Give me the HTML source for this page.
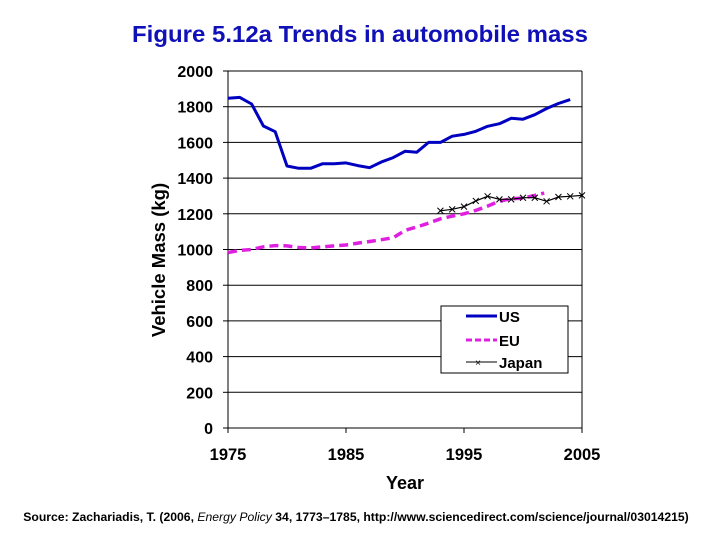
<!DOCTYPE html>
<html><head><meta charset="utf-8"><style>
body{margin:0;background:#fff;width:720px;height:540px;overflow:hidden;font-family:"Liberation Sans",Arial,sans-serif}
</style></head><body>
<svg id="c" width="720" height="540" xmlns="http://www.w3.org/2000/svg" font-family="Liberation Sans, Arial, sans-serif">
<text x="132" y="42" textLength="456" lengthAdjust="spacingAndGlyphs" font-size="23" font-weight="bold" fill="#1010b8">Figure 5.12a Trends in automobile mass</text>
<text x="165" y="260" text-anchor="middle" font-size="18.5" font-weight="bold" transform="rotate(-90 165 260)">Vehicle Mass (kg)</text>
<text x="405" y="489" text-anchor="middle" font-size="18" font-weight="bold">Year</text>
<text x="356" y="521" text-anchor="middle" font-size="12.2" font-weight="bold">Source: Zachariadis, T. (2006, <tspan font-style="italic" font-weight="normal">Energy Policy</tspan> 34, 1773–1785, http://www.sciencedirect.com/science/journal/03014215)</text>
<g id="grid"></g><g id="series"></g>
<g>
<rect x="441" y="306" width="127" height="67" fill="#fff" stroke="#000" stroke-width="1"/>
<line x1="466" y1="316" x2="497" y2="316" stroke="#0000c0" stroke-width="3"/>
<text x="499" y="322" font-size="15" font-weight="bold">US</text>
<line x1="466" y1="340" x2="497" y2="340" stroke="#e020e0" stroke-width="3" stroke-dasharray="6,3"/>
<text x="499" y="346" font-size="15" font-weight="bold">EU</text>
<line x1="466" y1="362" x2="497" y2="362" stroke="#000" stroke-width="1"/>
<text x="478" y="366" font-size="10" text-anchor="middle">×</text>
<text x="499" y="368" font-size="15" font-weight="bold">Japan</text>
</g>
</svg>
<script>
const yTicks=[0,200,400,600,800,1000,1200,1400,1600,1800,2000];
const xTicks=[1975,1985,1995,2005];
const usYears=[1975,1976,1977,1978,1979,1980,1981,1982,1983,1984,1985,1986,1987,1988,1989,1990,1991,1992,1993,1994,1995,1996,1997,1998,1999,2000,2001,2002,2003,2004];
const usValues=[1847,1852,1815,1692,1660,1468,1455,1455,1480,1480,1485,1470,1458,1490,1515,1550,1545,1600,1600,1635,1645,1662,1690,1705,1735,1730,1755,1790,1818,1840];
const euYears=[1975,1976,1977,1978,1979,1980,1981,1982,1983,1984,1985,1986,1987,1988,1989,1990,1991,1992,1993,1994,1995,1996,1997,1998,1999,2000,2001,2001.8];
const euValues=[983,995,1000,1015,1022,1020,1011,1009,1015,1020,1025,1036,1045,1055,1066,1107,1126,1148,1172,1187,1200,1219,1243,1271,1284,1288,1303,1316];
const jpYears=[1993,1994,1995,1996,1997,1998,1999,2000,2001,2002,2003,2004,2005];
const jpValues=[1217,1225,1240,1272,1298,1281,1281,1290,1290,1270,1294,1298,1303];
const NS='http://www.w3.org/2000/svg';
const X0=228,X1=582,Y0=428,Y1=71;
const xs=v=>X0+(v-1975)/30*(X1-X0);
const ys=v=>Y0-v/2000*(Y0-Y1);
function mk(t,a,p){const e=document.createElementNS(NS,t);for(const k in a)e.setAttribute(k,a[k]);p.appendChild(e);return e;}
const g=document.getElementById('grid'),s=document.getElementById('series');
yTicks.forEach(v=>{
 const l=mk('line',{x1:X0,x2:X1,y1:ys(v),y2:ys(v),stroke:'#000','stroke-width':1},g);
 
 
 const tk=mk('line',{x1:X0-5,x2:X0,y1:ys(v),y2:ys(v),stroke:'#000'},g);
 
 
 const t=mk('text',{x:X0-15,y:ys(v)+6,'text-anchor':'end','font-size':16,'font-weight':'bold'},g);t.textContent=v;
 
 
});
const ax=mk('line',{x1:X0,x2:X0,y1:Y1,y2:Y0,stroke:'#000'},g);


const rx=mk('line',{x1:X1,x2:X1,y1:Y1,y2:Y0,stroke:'#000'},g);


xTicks.forEach(v=>{
 const tk=mk('line',{x1:xs(v),x2:xs(v),y1:Y0,y2:Y0+5,stroke:'#000'},g);
 
 
 const t=mk('text',{x:xs(v),y:Y0+32,'text-anchor':'middle','font-size':16.5,'font-weight':'bold'},g);t.textContent=v;
 
 
});
const pts=(X,Y)=>X.map((x,i)=>xs(x).toFixed(1)+','+ys(Y[i]).toFixed(1)).join(' ');
const eu=mk('polyline',{points:pts(euYears,euValues),fill:'none',stroke:'#e020e0','stroke-width':3.5,'stroke-dasharray':'9,5'},s);


const us=mk('polyline',{points:pts(usYears,usValues),fill:'none',stroke:'#0000c0','stroke-width':3,'stroke-linejoin':'round'},s);


const jp=mk('polyline',{points:pts(jpYears,jpValues),fill:'none',stroke:'#000','stroke-width':1.2},s);


jpYears.forEach((x,i)=>{
 const cx=xs(x),cy=ys(jpValues[i]);
 const m=mk('path',{d:`M${cx-3},${cy-3}L${cx+3},${cy+3}M${cx-3},${cy+3}L${cx+3},${cy-3}`,stroke:'#000','stroke-width':1},s);
 
 
});
</script>
</body></html>
